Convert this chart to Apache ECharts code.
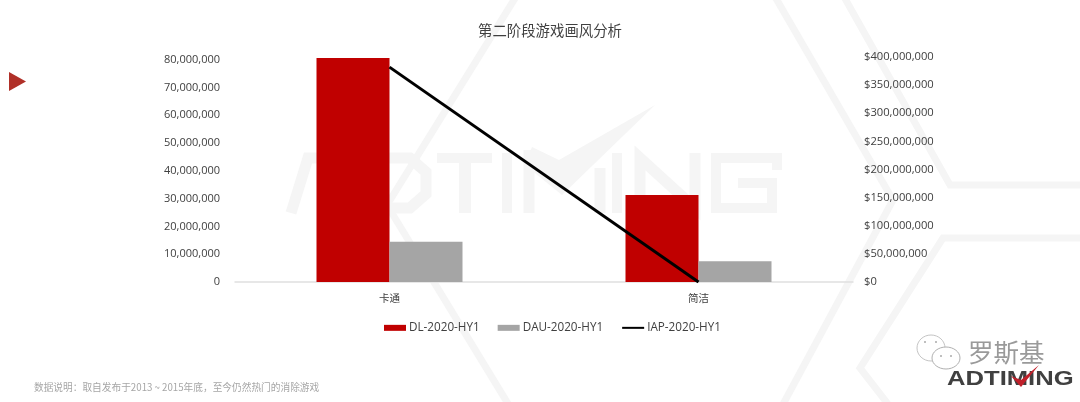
<!DOCTYPE html>
<html><head><meta charset="utf-8">
<style>html,body{margin:0;padding:0;background:#fff}#c{width:1080px;height:402px}</style>
<script src="https://cdn.jsdelivr.net/npm/echarts@6/dist/echarts.min.js"></script>
</head><body><div id="c"></div>
<script>
const categories = ['卡通', '简洁'];
const dlValues = [80600000, 31300000];
const dauValues = [14500000, 7500000];
const iapValues = [382000000, 0];
const leftTicks = {min: 0, max: 81000000, interval: 10000000};
const rightTicks = {min: 0, max: 400000000, interval: 50000000};
const FONT = '"Open Sans","Noto Sans CJK SC",sans-serif';
const CJK = '"Noto Sans CJK SC","Open Sans",sans-serif';
const wm = '#f5f5f5';
function line(points, w, color){
  return {type:'polyline', silent:true, z:-10, shape:{points}, style:{fill:null, stroke:color||wm, lineWidth:w||7}};
}
const chart = echarts.init(document.getElementById('c'), null, {renderer:'canvas'});
chart.setOption({
  animation:false,
  backgroundColor:'#fff',
  title:{text:'第二阶段游戏画风分析', left:545, top:18, textAlign:'center',
    textStyle:{fontFamily:CJK, fontSize:14.4, fontWeight:'normal', color:'#404040'}},
  grid:{left:235, right:227, top:57, bottom:120},
  legend:{top:317, left:379, itemWidth:22, itemHeight:6, itemGap:18,
    textStyle:{fontFamily:FONT, fontSize:11.7, color:'#404040', padding:[0,0,0,-2]},
    data:[{name:'DL-2020-HY1',icon:'rect'},{name:'DAU-2020-HY1',icon:'rect'},{name:'IAP-2020-HY1',itemStyle:{opacity:0}}]},
  xAxis:{type:'category', data:categories, axisTick:{show:false},
    axisLine:{lineStyle:{color:'#e0e0e0', width:1.5}},
    axisLabel:{fontFamily:CJK, fontSize:10.5, color:'#404040', margin:11}},
  yAxis:[
    {type:'value', ...leftTicks, splitLine:{show:false}, axisLine:{show:false}, axisTick:{show:false},
     axisLabel:{fontFamily:FONT, fontSize:11, color:'#404040', margin:15, showMaxLabel:false, padding:[8,0,0,0],
       formatter:v=>v.toLocaleString('en-US')}},
    {type:'value', ...rightTicks, splitLine:{show:false}, axisLine:{show:false}, axisTick:{show:false},
     axisLabel:{fontFamily:FONT, fontSize:11.2, color:'#404040', margin:11, padding:[8,0,0,0],
       formatter:v=>'$'+v.toLocaleString('en-US')}}
  ],
  series:[
    {name:'DL-2020-HY1', type:'bar', data:dlValues, barWidth:73, barGap:0, itemStyle:{color:'#c00000'}},
    {name:'DAU-2020-HY1', type:'bar', data:dauValues, barWidth:73, barGap:0, itemStyle:{color:'#a5a5a5'}},
    {name:'IAP-2020-HY1', type:'line', yAxisIndex:1, data:iapValues, symbol:'none', z:5,
     lineStyle:{color:'#000', width:3}, itemStyle:{color:'#000'}}
  ],
  graphic:[
    line([[517,-5],[387,205],[510,407]]),
    line([[774,-5],[893,200],[781,408]]),
    line([[843,-5],[950,185],[1085,185]]),
    line([[1085,238],[943,238],[860,368],[891,408]]),
    // large ADTIMING watermark
    line([[291,213],[308,158],[345,158],[345,213]],11),
    line([[358,158],[410,158],[426,172],[426,194],[410,208],[358,208]],11),
    line([[437,158],[492,158]],10), line([[465,158],[465,213]],12),
    line([[507,153],[507,213]],10),
    line([[529,213],[529,150]],11), line([[600,168],[600,213]],11),
    line([[617,153],[617,213]],10),
    line([[640,213],[640,158],[695,208],[695,153]],11),
    line([[777,170],[777,158],[716,158],[716,208],[772,208],[772,183],[738,183]],10),
    {type:'polygon', silent:true, z:-9, shape:{points:[[532,147],[559,160],[655,105],[562,195],[525,165]]}, style:{fill:wm}},
    {type:'polygon', silent:true, z:1, shape:{points:[[9,72],[26,81.5],[9,91]]}, style:{fill:'#b03028'}},
    {type:'text', silent:true, left:34, top:382,
      style:{text:'数据说明：取自发布于2013 ~ 2015年底，至今仍然热门的消除游戏', font:'9.7px "Noto Sans CJK SC"', fill:'#a6a6a6'}},
    {type:'text', silent:true, left:968, top:340,
      style:{text:'罗斯基', font:'25.5px "Noto Sans CJK SC"', fill:'#9a9a9a'}},
    {type:'text', silent:true, x:947, y:369, scaleX:1.22,
      style:{text:'ADTIMING', font:'bold 21px "Liberation Sans"', fill:'#404040'}},
    {type:'polygon', silent:true, z:3, shape:{points:[[1011,376],[1021,380],[1039,365],[1021,387]]}, style:{fill:'#c0202a'}},
    {type:'ellipse', silent:true, shape:{cx:931,cy:348,rx:14,ry:13}, style:{fill:'#fff',stroke:'#c4c4c4',lineWidth:1}},
    {type:'ellipse', silent:true, shape:{cx:946,cy:358,rx:14,ry:11}, style:{fill:'#fff',stroke:'#b0b0b0',lineWidth:1}},
    {type:'circle', silent:true, shape:{cx:925,cy:342,r:1}, style:{fill:'#aaa'}},
    {type:'circle', silent:true, shape:{cx:936,cy:342,r:1}, style:{fill:'#aaa'}},
    {type:'circle', silent:true, shape:{cx:941,cy:356,r:1}, style:{fill:'#aaa'}},
    {type:'circle', silent:true, shape:{cx:951,cy:356,r:1}, style:{fill:'#aaa'}}
  ]
});
</script></body></html>
